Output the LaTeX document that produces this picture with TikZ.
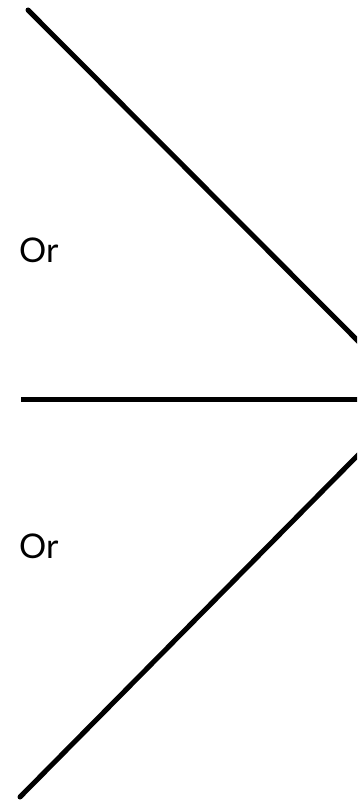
\documentclass[tikz,border=0pt]{standalone}
\usepackage{fontspec}
\setmainfont{Lato}
\begin{document}
\begin{tikzpicture}[x=1pt,y=-1pt,
  stroke/.style={line width=5pt,line cap=round,black},
  label/.style={font=\fontsize{34}{36}\selectfont,inner sep=0pt,anchor=base west}]
\useasboundingbox[fill=white] (0,0) rectangle (357,800);
\begin{scope}
\clip (0,0) rectangle (357,800);
\coordinate (a1) at (28,10);
\coordinate (a2) at (362,345);
\coordinate (h1) at (21,399);
\coordinate (h2) at (362,399);
\coordinate (b1) at (362,451);
\coordinate (b2) at (20,797);
\draw[stroke] (a1) -- (a2);
\draw[stroke,line cap=butt] (h1) -- (h2);
\draw[stroke] (b1) -- (b2);
\end{scope}
\node[label] (or1) at (19,262) {Or};
\node[label] (or2) at (19,558) {Or};
\end{tikzpicture}
\end{document}
